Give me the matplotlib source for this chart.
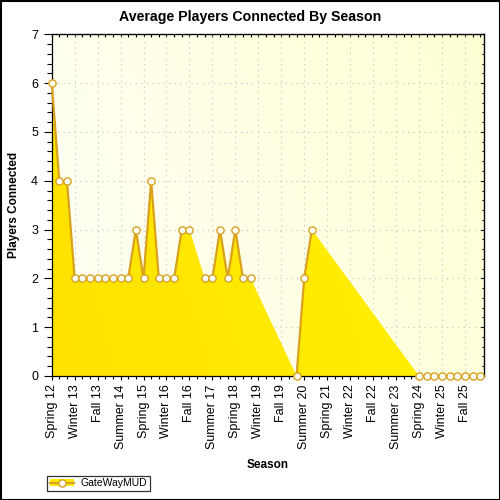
import numpy as np
import matplotlib
matplotlib.use("Agg")
import matplotlib.pyplot as plt
from matplotlib.colors import to_rgb
from matplotlib.lines import Line2D
from matplotlib.patches import Patch, Rectangle

plt.rcParams['font.family'] = ['Liberation Sans', 'DejaVu Sans']

seasons = [
    "Spring 12", "Summer 12", "Fall 12", "Winter 13", "Spring 13", "Summer 13", "Fall 13",
    "Winter 14", "Spring 14", "Summer 14", "Fall 14", "Winter 15", "Spring 15", "Summer 15",
    "Fall 15", "Winter 16", "Spring 16", "Summer 16", "Fall 16", "Winter 17", "Spring 17",
    "Summer 17", "Fall 17", "Winter 18", "Spring 18", "Summer 18", "Fall 18", "Winter 19",
    "Spring 19", "Summer 19", "Fall 19", "Winter 20", "Spring 20", "Summer 20", "Fall 20",
    "Winter 21", "Spring 21", "Summer 21", "Fall 21", "Winter 22", "Spring 22", "Summer 22",
    "Fall 22", "Winter 23", "Spring 23", "Summer 23", "Fall 23", "Winter 24", "Spring 24",
    "Summer 24", "Fall 24", "Winter 25", "Spring 25", "Summer 25", "Fall 25", "Winter 26",
    "Spring 26",
]
# None = no data for that season (area is still joined across the gap)
players = [
    6, 4, 4, 2, 2, 2, 2, 2, 2, 2, 2, 3, 2, 4, 2, 2, 2, 3, 3, None,
    2, 2, 3, 2, 3, 2, 2, None, None, None, None, None, 0, 2, 3, None,
    None, None, None, None, None, None, None, None, None, None, None, None,
    0, 0, 0, 0, 0, 0, 0, 0, 0,
]
series_name = "GateWayMUD"

x = np.arange(len(seasons))
y = np.array([np.nan if v is None else v for v in players], dtype=float)
ok = ~np.isnan(y)

XMAX = len(seasons) - 0.5
YMAX = 7

fig = plt.figure(figsize=(5, 5), dpi=100)
ax = fig.add_axes([0.1034, 0.248, 0.8646, 0.6834])

# plot background gradient
gx, gy = np.meshgrid(np.linspace(0, 1, 200), np.linspace(0, 1, 200))
t = 0.75 * gx + 0.25 * gy
c0, c1 = np.array(to_rgb("#FFFFF6")), np.array(to_rgb("#FFFFD4"))
bg = c0 + t[..., None] * (c1 - c0)
ax.imshow(bg, extent=[0, XMAX, 0, YMAX], origin="lower", aspect="auto", zorder=0)

# area, filled with a yellow gradient
poly = ax.fill_between(x[ok], y[ok], 0, facecolor="none", edgecolor="none", zorder=1)
t2 = 0.8 * gx + 0.2 * gy
f0, f1 = np.array(to_rgb("#FFE200")), np.array(to_rgb("#FFF300"))
fg = f0 + t2[..., None] * (f1 - f0)
im = ax.imshow(fg, extent=[0, XMAX, 0, YMAX], origin="lower", aspect="auto", zorder=1)
im.set_clip_path(poly.get_paths()[0], transform=ax.transData)

line_col = "#D9A21E"
ax.plot(x, y, color=line_col, lw=1.6, marker="o", ms=5.2, mfc="white",
        mec=line_col, mew=1.0, zorder=3, clip_on=False)

ax.set_xlim(0, XMAX)
ax.set_ylim(0, YMAX)

ax.set_xticks(x[::3])
ax.set_xticklabels(seasons[::3], rotation=90, fontsize=9)
ax.set_xticks(x, minor=True)
ax.set_yticks(range(YMAX + 1))
ax.set_yticks(np.arange(0, YMAX + 0.01, 0.2), minor=True)
ax.tick_params(axis="y", labelsize=9)

ax.set_axisbelow(True)
ax.grid(which="major", color="#C4C4C4", lw=0.8, linestyle=(0, (1, 4)))

ax.tick_params(axis="x", which="major", direction="inout", length=6, width=0.8, pad=3)
ax.tick_params(axis="x", which="minor", direction="out", length=1.8, width=0.8)
ax.tick_params(axis="y", which="major", direction="out", length=5.8, width=0.8, pad=4)
ax.tick_params(axis="y", which="minor", direction="out", length=3.6, width=0.8)
for s in ax.spines.values():
    s.set_linewidth(0.9)

top = ax.secondary_xaxis("top")
top.set_xticks(x)
top.set_xticklabels([])
top.tick_params(direction="in", length=2.2, width=0.8)
right = ax.secondary_yaxis("right")
right.set_yticks(range(YMAX + 1))
right.set_yticks(np.arange(0, YMAX + 0.01, 0.2), minor=True)
right.set_yticklabels([])
right.tick_params(which="major", direction="in", length=3.2, width=0.8)
right.tick_params(which="minor", direction="in", length=1.6, width=0.8)

fig.text(0.5, 0.966, "Average Players Connected By Season", ha="center", va="center",
         fontsize=10.2, fontweight="bold")
fig.text(0.028, 0.59, "Players Connected", rotation=90, ha="center", va="center",
         fontsize=8.5, fontweight="bold")
fig.text(0.536, 0.07, "Season", ha="center", va="center", fontsize=8.5, fontweight="bold")

handle = (Patch(facecolor="#FFE800", edgecolor="none"),
          Line2D([], [], color=line_col, lw=1.6, marker="o", ms=5.2, mfc="white",
                 mec=line_col, mew=1.0))
leg = fig.legend([handle], [series_name], loc="lower left", bbox_to_anchor=(0.094, 0.018),
                 frameon=True, fancybox=False, edgecolor="black", fontsize=7.5,
                 handlelength=2.3, borderpad=0.25, handletextpad=0.7, borderaxespad=0)
leg.get_frame().set_linewidth(0.9)

fig.patches.append(Rectangle((0.001, 0.001), 0.998, 0.998, transform=fig.transFigure,
                             fill=False, ec="black", lw=1.5))

fig.savefig("out.png", dpi=100)
